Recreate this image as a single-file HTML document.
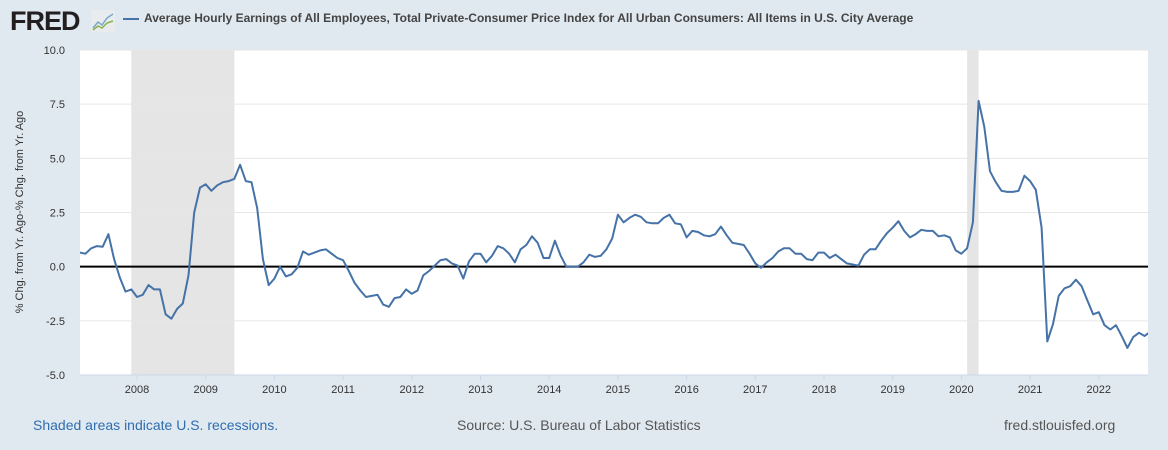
<!DOCTYPE html>
<html><head><meta charset="utf-8"><style>
body{margin:0;width:1168px;height:450px;background:#e1e9f0;font-family:"Liberation Sans",sans-serif;overflow:hidden;position:relative}
.t{position:absolute;white-space:nowrap}
</style></head><body>
<div class="t" style="left:10px;top:6px;font-size:27px;font-weight:bold;color:#231f20;letter-spacing:-1px">FRED</div>
<svg class="t" style="left:91px;top:10px" width="24" height="22"><rect width="24" height="22" fill="#e8ecef"/><polyline points="2,18 7,12 11,15 16,8 22,4" stroke="#7aa6c9" fill="none" stroke-width="1.5"/><polyline points="2,20 7,16 11,18 16,13 22,11" stroke="#8cb24a" fill="none" stroke-width="1.5"/></svg>
<div class="t" style="left:123px;top:11px;font-size:12px;font-weight:bold;color:#444"><span style="display:inline-block;width:16px;height:2px;background:#4572a7;vertical-align:middle;margin-right:5px"></span>Average Hourly Earnings of All Employees, Total Private-Consumer Price Index for All Urban Consumers: All Items in U.S. City Average</div>
<div class="t" style="left:20px;top:212px;font-size:11px;color:#333;transform:translate(-50%,-50%) rotate(-90deg)">% Chg. from Yr. Ago-% Chg. from Yr. Ago</div>
<svg id="c" class="t" style="left:0;top:0" width="1168" height="400"></svg>
<div class="t" style="left:33px;top:417px;font-size:14px;color:#2e6db0">Shaded areas indicate U.S. recessions.</div>
<div class="t" style="left:457px;top:417px;font-size:14px;color:#555">Source: U.S. Bureau of Labor Statistics</div>
<div class="t" style="left:1004px;top:417px;font-size:14px;color:#555">fred.stlouisfed.org</div>
<script>
const startYear=2007,startMonth=2;
const values=[0.65,0.6,0.85,0.95,0.92,1.5,0.35,-0.5,-1.15,-1.05,
-1.4,-1.3,-0.85,-1.05,-1.05,-2.2,-2.4,-1.95,-1.7,-0.4,2.5,3.65,
3.8,3.5,3.75,3.9,3.95,4.05,4.7,3.95,3.9,2.7,0.35,-0.85,
-0.55,0.0,-0.45,-0.35,-0.05,0.7,0.55,0.65,0.75,0.8,0.6,0.4,
0.3,-0.2,-0.75,-1.1,-1.4,-1.35,-1.3,-1.75,-1.85,-1.45,-1.4,-1.05,
-1.25,-1.1,-0.4,-0.2,0.05,0.3,0.35,0.15,0.05,-0.55,0.25,0.6,
0.6,0.2,0.5,0.95,0.85,0.6,0.2,0.8,1.0,1.4,1.1,0.4,
0.4,1.2,0.5,0.0,0.0,0.0,0.2,0.55,0.45,0.5,0.8,1.3,
2.4,2.05,2.25,2.4,2.3,2.05,2.0,2.0,2.25,2.4,2.0,1.95,
1.35,1.65,1.6,1.45,1.4,1.5,1.85,1.45,1.1,1.05,1.0,0.6,
0.15,-0.05,0.2,0.4,0.7,0.85,0.85,0.6,0.6,0.35,0.3,0.65,
0.65,0.4,0.55,0.35,0.15,0.1,0.05,0.55,0.8,0.8,1.2,1.55,
1.8,2.1,1.65,1.35,1.5,1.7,1.65,1.65,1.4,1.45,1.35,0.75,
0.6,0.85,2.05,7.65,6.45,4.4,3.9,3.5,3.45,3.45,3.5,4.2,
3.95,3.55,1.8,-3.45,-2.65,-1.35,-1.0,-0.9,-0.6,-0.9,-1.55,-2.2,
-2.1,-2.7,-2.9,-2.7,-3.2,-3.75,-3.25,-3.05,-3.2,-3.0];
const yTicks=[-5,-2.5,0,2.5,5,7.5,10];
const yTickLabels=["-5.0","-2.5","0.0","2.5","5.0","7.5","10.0"];
const xTicks=[2008,2009,2010,2011,2012,2013,2014,2015,2016,2017,2018,2019,2020,2021,2022];
const recessions=[[2007+11/12,2009+5/12],[2020+1/12,2020+3/12]];
const L=80,R=1148,T=50,B=375;
const X=t=>68.3+(t-2007)*68.7;
const Y=v=>T+(10-v)*(B-T)/15;
const svg=document.getElementById('c'),NS='http://www.w3.org/2000/svg';
function mk(tag,a){const e=document.createElementNS(NS,tag);for(const k in a)e.setAttribute(k,a[k]);svg.appendChild(e);return e;}
const bg=mk('rect',{x:L,y:T,width:R-L,height:B-T,fill:'#fff'});


recessions.forEach(r=>{const e=mk('rect',{x:X(r[0]),y:T,width:X(r[1])-X(r[0]),height:B-T,fill:'#e5e5e5'});

});
yTicks.forEach((v,i)=>{
if(v!==0&&v!==-5){const g=mk('line',{x1:L,x2:R,y1:Y(v),y2:Y(v),stroke:'#e6e6e6'});

}
const t=mk('text',{x:65,y:Y(v)+4,'text-anchor':'end','font-size':11,fill:'#333','font-family':'Liberation Sans'});
t.textContent=yTickLabels[i];

});
const ax=mk('line',{x1:L,x2:R,y1:B,y2:B,stroke:'#ccd6eb'});


xTicks.forEach(y=>{const tk=mk('line',{x1:X(y),x2:X(y),y1:B,y2:B+5,stroke:'#ccd6eb'});


const t=mk('text',{x:X(y),y:B+18,'text-anchor':'middle','font-size':11,fill:'#333','font-family':'Liberation Sans'});
t.textContent=y;

});
const z=mk('line',{x1:L,x2:R,y1:Y(0),y2:Y(0),stroke:'#000','stroke-width':2});


const cp=mk('clipPath',{id:'cl'});const cr=document.createElementNS(NS,'rect');
cr.setAttribute('x',L);cr.setAttribute('y',T);cr.setAttribute('width',R-L);cr.setAttribute('height',B-T);cp.appendChild(cr);
const pts=values.map((v,i)=>X(startYear+(startMonth+i)/12).toFixed(1)+','+Y(v).toFixed(1)).join(' ');
const pl=mk('polyline',{points:pts,fill:'none',stroke:'#4572a7','stroke-width':2,'stroke-linejoin':'round','clip-path':'url(#cl)'});


</script>
</body></html>
